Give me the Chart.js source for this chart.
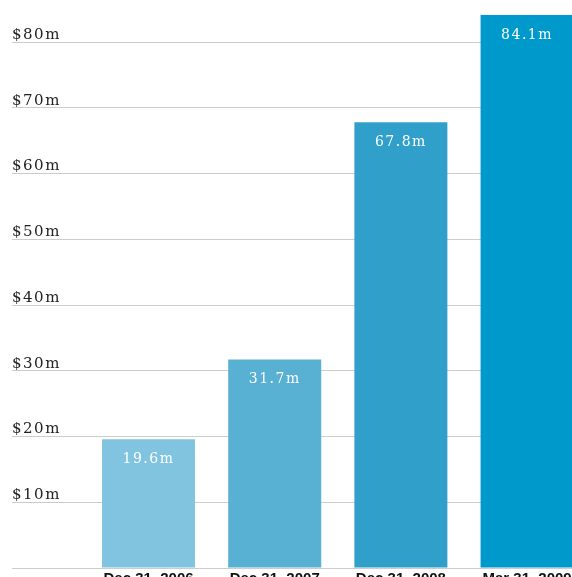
<!DOCTYPE html>
<html>
<head>
<meta charset="utf-8">
<script src="https://cdn.jsdelivr.net/npm/chart.js@4/dist/chart.umd.min.js"></script>
<style>
  html, body { margin: 0; padding: 0; background: #fff; overflow: hidden; }
  #wrap { width: 572px; height: 577px; overflow: hidden; position: relative; }
  #box { position: absolute; left: 0; top: 0; width: 600px; height: 600px; }
</style>
</head>
<body>
<div id="wrap"><div id="box"><canvas id="assets"></canvas></div></div>
<script>
const dates = ['Dec 31, 2006', 'Dec 31, 2007', 'Dec 31, 2008', 'Mar 31, 2009'];
const amounts = [19.6, 31.7, 67.8, 84.1];
const barColors = ['#80c4e0', '#58b0d3', '#30a0cb', '#0099cc'];
const yTicks = [0, 10, 20, 30, 40, 50, 60, 70, 80];

const serif = "'DejaVu Serif', 'Liberation Serif', serif";

// white value text inside the top of each bar; the wide letter spacing
// is kept on for the y labels, which are drawn after the bars (z: 1)
const barValues = {
  id: 'barValues',
  afterDatasetsDraw(chart) {
    const ctx = chart.ctx;
    ctx.letterSpacing = '1.5px';
    ctx.save();
    ctx.fillStyle = '#fff';
    ctx.font = '14px ' + serif;
    ctx.textAlign = 'center';
    ctx.textBaseline = 'middle';
    chart.getDatasetMeta(0).data.forEach((bar, i) => {
      ctx.fillText(amounts[i].toFixed(1) + 'm', bar.x, bar.y + 20);
    });
    ctx.restore();
  },
  afterDraw(chart) {
    chart.ctx.letterSpacing = '0px';
  }
};

new Chart(document.getElementById('assets'), {
  type: 'bar',
  data: {
    datasets: [{
      data: amounts.map((v, i) => ({ x: i, y: v })),
      backgroundColor: barColors,
      borderWidth: 0,
      barPercentage: 0.737,
      categoryPercentage: 1
    }]
  },
  options: {
    responsive: true,
    maintainAspectRatio: false,
    animation: false,
    layout: { padding: { left: 12, right: 0, top: 0, bottom: 12 } },
    plugins: { legend: { display: false }, tooltip: { enabled: false } },
    scales: {
      x: {
        type: 'linear',
        offset: false,
        min: -1.082,
        max: 3.578,
        afterBuildTicks(scale) {
          scale.ticks = dates.map((d, i) => ({ value: i }));
        },
        afterFit(scale) {
          scale.height = 20;
        },
        grid: { display: false, drawTicks: false },
        border: { display: false },
        ticks: {
          callback: v => dates[v],
          autoSkip: false,
          maxRotation: 0,
          padding: 2,
          color: '#111',
          font: { family: "'Liberation Sans', Arial, sans-serif", size: 15, weight: 'bold' }
        }
      },
      y: {
        min: 0,
        max: 86.4,
        afterBuildTicks(scale) {
          scale.ticks = yTicks.map(v => ({ value: v }));
        },
        afterFit(scale) {
          scale.paddingTop = 0;
          scale.paddingBottom = 0;
        },
        grid: { color: '#cccccc', drawTicks: false },
        border: { display: false },
        ticks: {
          z: 1,
          mirror: true,
          padding: 0,
          labelOffset: -7,
          color: '#222',
          font: { family: serif, size: 15 },
          callback: v => v ? '$' + v + 'm' : ''
        }
      }
    }
  },
  plugins: [barValues]
});
</script>
</body>
</html>
